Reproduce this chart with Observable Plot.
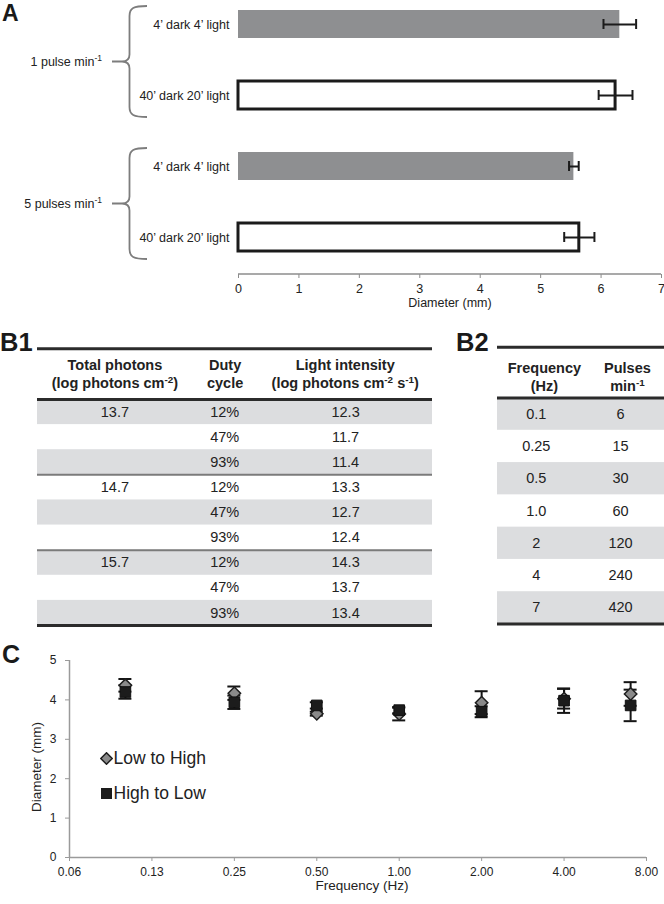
<!DOCTYPE html>
<html><head><meta charset="utf-8">
<script src="https://cdn.jsdelivr.net/npm/d3@7"></script>
<script src="https://cdn.jsdelivr.net/npm/@observablehq/plot@0.6"></script>
<style>
html,body{margin:0;padding:0;background:#fff;}
#fig{position:relative;width:664px;height:904px;font-family:"Liberation Sans",Arial,Helvetica,sans-serif;color:#222;overflow:hidden;background:#fff;}
.lbl{position:absolute;font-weight:bold;line-height:1;color:#1a1a1a;white-space:nowrap;}
.leg{position:absolute;display:flex;align-items:center;font-size:17.5px;line-height:20px;height:20px;white-space:nowrap;color:#222;}
.leg svg{margin-right:1px;}
</style></head><body><div id="fig"></div>
<script>
// ---------- DATA ----------
// Panel A
const aLabels = ["4’ dark 4’ light", "40’ dark 20’ light", "4’ dark 4’ light", "40’ dark 20’ light"];
const aGroupOf = [0, 0, 1, 1];
const aGroups = ["1 pulse min⁻¹", "5 pulses min⁻¹"];
const aStyle = ["solid", "hollow", "solid", "hollow"];
const aMeans = [6.31, 6.24, 5.55, 5.64];
const aErr = [0.27, 0.28, 0.08, 0.25];
const aXTicks = [0, 1, 2, 3, 4, 5, 6, 7];
const aXLabel = "Diameter (mm)";

// Panel B1
const b1Headers = [["Total photons", "(log photons cm⁻²)"], ["Duty", "cycle"], ["Light intensity", "(log photons cm⁻² s⁻¹)"]];
const b1Total = ["13.7", "14.7", "15.7"];
const b1Duty = ["12%", "47%", "93%", "12%", "47%", "93%", "12%", "47%", "93%"];
const b1Intensity = ["12.3", "11.7", "11.4", "13.3", "12.7", "12.4", "14.3", "13.7", "13.4"];

// Panel B2
const b2Headers = [["Frequency", "(Hz)"], ["Pulses", "min⁻¹"]];
const b2Freq = ["0.1", "0.25", "0.5", "1.0", "2", "4", "7"];
const b2Pulses = ["6", "15", "30", "60", "120", "240", "420"];

// Panel C
const cSeries = ["Low to High", "High to Low"];
const cFreq = [0.1, 0.25, 0.5, 1, 2, 4, 7];
const lhMean = [4.37, 4.17, 3.65, 3.64, 3.93, 4.03, 4.15];
const lhErr  = [0.16, 0.17, 0.05, 0.16, 0.29, 0.25, 0.30];
const hlMean = [4.20, 3.94, 3.86, 3.74, 3.70, 3.98, 3.86];
const hlErr  = [0.17, 0.17, 0.08, 0.08, 0.14, 0.31, 0.40];
const cXTicks = [0.0625, 0.125, 0.25, 0.5, 1, 2, 4, 8];
const cXTickLabels = ["0.06", "0.13", "0.25", "0.50", "1.00", "2.00", "4.00", "8.00"];
const cYTicks = [0, 1, 2, 3, 4, 5];
const cXLabel = "Frequency (Hz)";
const cYLabel = "Diameter (mm)";

// ---------- HELPERS ----------
const FONT = '"Liberation Sans", Arial, Helvetica, sans-serif';
const fig = document.getElementById("fig");
const baseStyle = {fontFamily: FONT, fontSize: "12.5px", color: "#222", background: "transparent", overflow: "visible"};
function place(node, left, top) {
  node.style.position = "absolute";
  node.style.left = left + "px";
  node.style.top = top + "px";
  fig.appendChild(node);
}
function label(txt, left, top, size) {
  const d = document.createElement("div");
  d.className = "lbl"; d.textContent = txt;
  d.style.left = left + "px"; d.style.top = top + "px"; d.style.fontSize = size + "px";
  fig.appendChild(d);
}
function supify(root) {
  const NS = "http://www.w3.org/2000/svg";
  const re = /[⁻¹²]/;
  root.querySelectorAll("text").forEach(t => {
    if (t.children.length) return;
    const s = t.textContent;
    if (!re.test(s)) return;
    t.textContent = "";
    s.split(/([⁻¹²]+)/).forEach(part => {
      if (!part) return;
      const ts = document.createElementNS(NS, "tspan");
      if (/^[⁻¹²]+$/.test(part)) {
        ts.textContent = part.replace(/⁻/g, "-").replace(/¹/g, "1").replace(/²/g, "2");
        ts.setAttribute("font-size", "68%");
        ts.setAttribute("baseline-shift", "super");
      } else ts.textContent = part;
      t.appendChild(ts);
    });
  });
}
const intFmt = d => d3.format("d")(d);

// ---------- PANEL A ----------
const aData = aLabels.map((lab, i) => ({idx: i, label: lab, group: aGroupOf[i], style: aStyle[i], mean: aMeans[i], err: aErr[i]}));

function aBraces(index, scales, values, dims) {
  const y = scales.y, bw = y.bandwidth();
  const ml = dims.marginLeft;
  const g = d3.create("svg:g");
  aGroups.forEach((lab, gi) => {
    const rows = aData.filter(d => d.group === gi);
    const y0 = y(rows[0].idx) - 4;
    const y1 = y(rows[rows.length - 1].idx) + bw + 8;
    const m = (y0 + y1) / 2;
    const xv = ml - 108.5, xe = ml - 91, xt = ml - 116;
    const p = d3.path();
    p.moveTo(xe, y0); p.bezierCurveTo(xv + 4, y0, xv, y0 + 2, xv, y0 + 10);
    p.lineTo(xv, m - 7); p.bezierCurveTo(xv, m - 2, xv - 3, m, xt, m);
    p.bezierCurveTo(xv - 3, m, xv, m + 2, xv, m + 7);
    p.lineTo(xv, y1 - 10); p.bezierCurveTo(xv, y1 - 2, xv + 4, y1, xe, y1);
    p.moveTo(ml - 126, m); p.lineTo(xt, m);
    g.append("path").attr("d", p.toString()).attr("fill", "none").attr("stroke", "#7d7d7d").attr("stroke-width", 1.8);
    g.append("text").attr("x", ml - 136).attr("y", m).attr("dy", "0.32em").attr("text-anchor", "end")
      .attr("font-size", 12.5).attr("fill", "#222").text(lab);
  });
  return g.node();
}
function bottomLine(color, w) {
  return (index, scales, values, dims) => {
    const yy = dims.height - dims.marginBottom;
    return d3.create("svg:line").attr("x1", dims.marginLeft).attr("x2", dims.width - dims.marginRight)
      .attr("y1", yy).attr("y2", yy).attr("stroke", color).attr("stroke-width", w).node();
  };
}

const plotA = Plot.plot({
  width: 664, height: 310,
  marginLeft: 238, marginRight: 3, marginTop: 9, marginBottom: 36,
  style: baseStyle,
  x: {domain: [0, 7], label: null},
  y: {domain: aData.map(d => d.idx), range: [9, 251.5], paddingInner: 0.608, paddingOuter: 0, label: null},
  marks: [
    Plot.barX(aData.filter(d => d.style === "solid"), {x: "mean", y: "idx", fill: "#8e8f91"}),
    Plot.barX(aData.filter(d => d.style === "hollow"), {x: "mean", y: "idx", fill: "white", stroke: "#1b1b1b", strokeWidth: 3}),
    Plot.ruleY(aData, {x1: d => d.mean - d.err, x2: d => d.mean + d.err, y: "idx", stroke: "#1b1b1b", strokeWidth: 2}),
    Plot.tickX(aData, {x: d => d.mean - d.err, y: "idx", insetTop: 9, insetBottom: 9, stroke: "#1b1b1b", strokeWidth: 2}),
    Plot.tickX(aData, {x: d => d.mean + d.err, y: "idx", insetTop: 9, insetBottom: 9, stroke: "#1b1b1b", strokeWidth: 2}),
    Plot.axisY({tickSize: 0, tickPadding: 9, tickFormat: i => aLabels[i], fontSize: 12.5, fill: "#222", label: null}),
    Plot.axisX({ticks: aXTicks, tickFormat: intFmt, tickSize: 4, tickPadding: 6, stroke: "#8c8c8c", fill: "#222", fontSize: 12.5, label: null}),
    bottomLine("#8c8c8c", 1.5),
    Plot.text([aXLabel], {text: d => d, frameAnchor: "bottom", lineAnchor: "middle", dy: 28, fontSize: 12.5, fill: "#222"}),
    aBraces
  ]
});
place(plotA, 0, 0);

// ---------- PANEL B1 ----------
const b1Rows = b1Intensity.map((v, i) => ({i, total: i % 3 === 0 ? b1Total[i / 3] : "", duty: b1Duty[i], intensity: v}));
const b1ColX = [0.196, 0.474, 0.780];
const b1HeadX = [0.196, 0.475, 0.779];
const plotB1 = Plot.plot({
  width: 395, height: 300, margin: 0,
  style: {...baseStyle, fontSize: "14.5px"},
  x: {domain: [0, 1], axis: null},
  y: {domain: [0, b1Rows.length], range: [69, 295], axis: null},
  marks: [
    Plot.rect(b1Rows.filter(d => d.i % 2 === 0), {x1: 0, x2: 1, y1: d => d.i, y2: d => d.i + 1, fill: "#dcdddf"}),
    Plot.ruleY([3, 6], {stroke: "#7b7b7b", strokeWidth: 2}),
    Plot.ruleY([-2.02, 0, b1Rows.length], {stroke: "#2b2b2b", strokeWidth: 3}),
    Plot.text(b1Rows, {x: b1ColX[0], y: d => d.i + 0.5, text: "total", fontSize: 14.5}),
    Plot.text(b1Rows, {x: b1ColX[1], y: d => d.i + 0.5, text: "duty", fontSize: 14.5}),
    Plot.text(b1Rows, {x: b1ColX[2], y: d => d.i + 0.5, text: "intensity", fontSize: 14.5}),
    Plot.text(b1Headers, {x: (d, i) => b1HeadX[i], y: -1.378, text: d => d[0], fontWeight: "bold", fontSize: 14.5}),
    Plot.text(b1Headers, {x: (d, i) => b1HeadX[i], y: -0.649, text: d => d[1], fontWeight: "bold", fontSize: 14.5})
  ]
});
place(plotB1, 37, 330);
label("B1", 0, 330, 25.5);

// ---------- PANEL B2 ----------
const b2Rows = b2Freq.map((f, i) => ({i, freq: f, pulses: b2Pulses[i]}));
const b2ColX = [0.232, 0.737];
const b2HeadX = [0.281, 0.778];
const plotB2 = Plot.plot({
  width: 167, height: 300, margin: 0,
  style: {...baseStyle, fontSize: "14.5px"},
  x: {domain: [0, 1], axis: null},
  y: {domain: [0, b2Rows.length], range: [67.5, 293.5], axis: null},
  marks: [
    Plot.rect(b2Rows.filter(d => d.i % 2 === 0), {x1: 0, x2: 1, y1: d => d.i, y2: d => d.i + 1, fill: "#dcdddf"}),
    Plot.ruleY([-1.573, 0, b2Rows.length], {stroke: "#2b2b2b", strokeWidth: 3}),
    Plot.text(b2Rows, {x: b2ColX[0], y: d => d.i + 0.5, text: "freq", fontSize: 14.5}),
    Plot.text(b2Rows, {x: b2ColX[1], y: d => d.i + 0.5, text: "pulses", fontSize: 14.5}),
    Plot.text(b2Headers, {x: (d, i) => b2HeadX[i], y: -0.914, text: d => d[0], fontWeight: "bold", fontSize: 14.5}),
    Plot.text(b2Headers, {x: (d, i) => b2HeadX[i], y: -0.375, text: d => d[1], fontWeight: "bold", fontSize: 14.5})
  ]
});
place(plotB2, 497, 330);
label("B2", 456, 330, 25.5);

// ---------- PANEL C ----------
const lh = cFreq.map((f, i) => ({f, m: lhMean[i], e: lhErr[i]}));
const hl = cFreq.map((f, i) => ({f, m: hlMean[i], e: hlErr[i]}));
const errMarks = (data) => [
  Plot.ruleX(data, {x: "f", y1: d => d.m - d.e, y2: d => d.m + d.e, stroke: "#151515", strokeWidth: 2}),
  Plot.ruleY(data, {x1: "f", x2: "f", y: d => d.m - d.e, insetLeft: -6.5, insetRight: -6.5, stroke: "#151515", strokeWidth: 2}),
  Plot.ruleY(data, {x1: "f", x2: "f", y: d => d.m + d.e, insetLeft: -6.5, insetRight: -6.5, stroke: "#151515", strokeWidth: 2})
];
const plotC = Plot.plot({
  width: 664, height: 264,
  marginLeft: 69, marginRight: 18, marginTop: 20, marginBottom: 47,
  style: {...baseStyle, fontSize: "12px"},
  x: {type: "log", base: 2, domain: [cXTicks[0], cXTicks[cXTicks.length - 1]], label: null},
  y: {domain: [cYTicks[0], cYTicks[cYTicks.length - 1]], label: null},
  marks: [
    Plot.axisX({ticks: cXTicks, tickFormat: d => cXTickLabels[cXTicks.indexOf(d)], tickSize: 4, tickPadding: 5.5, stroke: "#9a9a9a", fill: "#222", fontSize: 12, label: null}),
    Plot.axisY({ticks: cYTicks, tickFormat: intFmt, tickSize: 4, tickPadding: 9, stroke: "#9a9a9a", fill: "#222", fontSize: 12, label: null}),
    Plot.ruleY([cYTicks[0]], {stroke: "#9a9a9a", strokeWidth: 1.5}),
    Plot.ruleX([cXTicks[0]], {stroke: "#9a9a9a", strokeWidth: 1.5}),
    ...errMarks(lh),
    ...errMarks(hl),
    Plot.dot(lh, {x: "f", y: "m", symbol: "diamond2", r: 5.6, fill: "#8a8a8a", stroke: "#1e1e1e", strokeWidth: 1.5}),
    Plot.dot(hl, {x: "f", y: "m", symbol: "square", r: 6, fill: "#1c1c1c", stroke: "#111", strokeWidth: 1}),
    Plot.text([cXLabel], {text: d => d, frameAnchor: "bottom", lineAnchor: "middle", dy: 28, dx: 4, fontSize: 13.5, fill: "#222"}),
    Plot.text([cYLabel], {text: d => d, frameAnchor: "left", textAnchor: "middle", lineAnchor: "middle", dx: -33, dy: 8, rotate: -90, fontSize: 13.5, fill: "#222"})
  ]
});
place(plotC, 0, 640);
label("A", 2, 1.5, 23);
label("C", 2, 642, 25);

// legend for C
const legIcons = [
  '<svg width="13" height="13" viewBox="0 0 13 13"><polygon points="6.5,0.8 12.2,6.5 6.5,12.2 0.8,6.5" fill="#8a8a8a" stroke="#1e1e1e" stroke-width="1.5"/></svg>',
  '<svg width="13" height="13" viewBox="0 0 13 13"><rect x="1" y="1" width="11" height="11" fill="#1c1c1c"/></svg>'
];
const legTops = [748, 783];
cSeries.forEach((s, i) => {
  const d = document.createElement("div");
  d.className = "leg";
  d.style.left = "99.5px"; d.style.top = legTops[i] + "px";
  d.innerHTML = legIcons[i];
  const sp = document.createElement("span"); sp.textContent = s; d.appendChild(sp);
  fig.appendChild(d);
});

supify(fig);
</script>
</body></html>
